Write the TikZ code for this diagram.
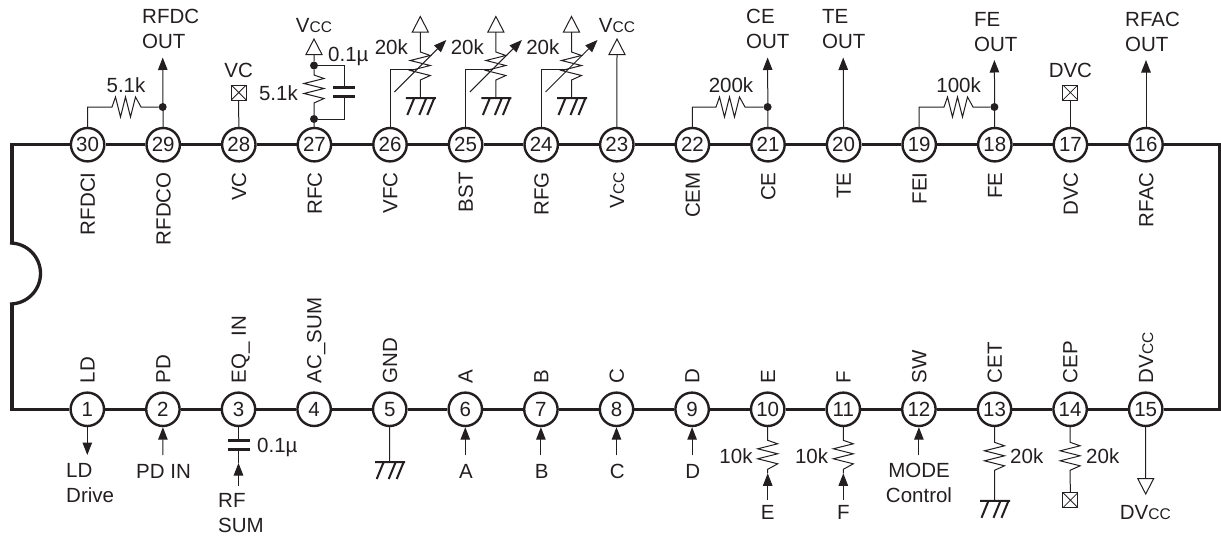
\documentclass[tikz,border=0pt]{standalone}
\usepackage{fontspec}
\setmainfont{Liberation Sans}
\usetikzlibrary{arrows.meta,calc}
\definecolor{ink}{HTML}{231F20}
\newcommand{\smc}[1]{{\fontsize{15.5}{15.5}\selectfont #1}}
\tikzset{
  pin/.style={circle,draw=ink,line width=2.4pt,fill=white,minimum size=33.4pt,inner sep=0pt,text=ink,font=\fontsize{20.5}{24}\selectfont},
  body/.style={draw=ink,line width=3.3pt,line cap=butt,line join=miter},
  wire/.style={draw=ink,line width=1pt},
  arr/.style={wire,-{Triangle[width=9.5pt,length=12.5pt]}},
  lbl/.style={inner sep=0pt,text=ink,font=\fontsize{20.5}{25}\selectfont},
  vlbl/.style={lbl,rotate=90,text height=14.7pt,text depth=0pt},
  dotn/.style={circle,fill=ink,minimum size=8pt,inner sep=0pt},
  nc/.style={rectangle,draw=ink,line width=1pt,minimum size=15pt,inner sep=0pt,
    path picture={\draw[ink,line width=.8pt] (path picture bounding box.north west)--(path picture bounding box.south east)
      (path picture bounding box.north east)--(path picture bounding box.south west);}},
  zigv/.style={to path={-- ++(10,3.5) -- ++(-20,5) -- ++(20,5) -- ++(-20,5) -- ++(20,5) -- (\tikztotarget)}},
  zigh/.style={to path={-- ++(3.5,-10) -- ++(5,20) -- ++(5,-20) -- ++(5,20) -- ++(5,-20) -- (\tikztotarget)}},
  vccup/.pic={\draw[wire,line join=miter] (0,-15.5)--(-8,0)--(8,0)--cycle;},
  vccdown/.pic={\draw[wire,line join=miter] (0,15.5)--(-8,0)--(8,0)--cycle;},
  gnd/.pic={\draw[ink,line width=2pt] (-14.5,0)--(15.5,0) (-6,0)--(-13,17) (6,0)--(-1,17) (14,0)--(7,17);},
  plate/.pic={\draw[ink,line width=3pt] (-11,0)--(11,0);}
}
\begin{document}
\begin{tikzpicture}[x=1pt,y=-1pt]
\useasboundingbox (0,0) rectangle (1221,541);
% outline corners
\coordinate (cTL) at (12,144.7);
\coordinate (cBL) at (12,409.3);
\coordinate (cTR) at (1220,144.7);
\coordinate (cBR) at (1220,409.3);
\coordinate (nA) at (12,243);
\coordinate (nB) at (12,304);
\coordinate (nC) at (10,243);
% pins
\foreach \n in {1,...,15} \node[pin] (p\n) at ({87.3+(\n-1)*75.6},409.3) {\n};
\foreach \n in {16,...,30} \node[pin] (p\n) at ({1146-(\n-16)*75.6},144.7) {\n};
% outline
\foreach \a/\b in {1/2,2/3,3/4,4/5,5/6,6/7,7/8,8/9,9/10,10/11,11/12,12/13,13/14,14/15,16/17,17/18,18/19,19/20,20/21,21/22,22/23,23/24,24/25,25/26,26/27,27/28,28/29,29/30}
  \draw[body] (p\a) -- (p\b);
\draw[body] (p30) -- (cTL) -- (nA);
\draw[body] (nB) -- (cBL) -- (p1);
\draw[body] (p15) -- (cBR) -- (cTR) -- (p16);
\draw[body] (nC) arc[start angle=-90,end angle=90,radius=30.5];
% top side labels
\foreach \n/\t in {30/RFDCI,29/RFDCO,28/VC,27/RFC,26/VFC,25/BST,24/RFG,23/V\smc{CC},22/CEM,21/CE,20/TE,19/FEI,18/FE,17/DVC,16/RFAC}
  \node[vlbl,anchor=east] (lt\n) at ($(p\n)+(0,27.5)$) {\t};
% bottom side labels
\foreach \n/\t in {1/LD,2/PD,3/EQ\_ IN,4/AC\_SUM,5/GND,6/A,7/B,8/C,9/D,10/E,11/F,12/SW,13/CET,14/CEP,15/DV\smc{CC}}
  \node[vlbl,anchor=west] (lb\n) at ($(p\n)+(0,-26)$) {\t};

% pin 30 / 29
\node[dotn] (d29) at (162.7,107) {};
\coordinate (r30a) at (112,107); \coordinate (r30b) at (141,107);
\coordinate (t29) at (162.7,57.5);
\draw[arr] (p29) -- (t29);
\draw[wire] (p30) |- (r30a) to[zigh] (r30b) -- (d29);
\node[lbl,anchor=base] (l51a) at (126,92) {5.1k};
\node[lbl,anchor=south west,align=left] (o29) at (142,49) {RFDC\\OUT};
% pin 28
\node[nc] (b28) at (238.7,92.5) {};
\draw[wire] (p28) -- (b28);
\node[lbl,anchor=base] (l28) at (238.7,77) {VC};
% pin 27
\node[dotn] (d27a) at (314,65.5) {};
\node[dotn] (d27b) at (314,119) {};
\coordinate (v27) at (314,54.5);
\coordinate (r27a) at (314,75); \coordinate (r27b) at (314,103);
\coordinate (c27a) at (344.3,87); \coordinate (c27b) at (344.3,96);
\pic at (v27) {vccup};
\draw[wire] (v27) -- (d27a) -- (r27a) to[zigv] (r27b) -- (d27b) -- (p27);
\draw[wire] (d27a) -| (c27a);
\draw[wire] (c27b) |- (d27b);
\pic at (c27a) {plate}; \pic at (c27b) {plate};
\node[lbl,anchor=base] (l27v) at (314,32) {V\smc{CC}};
\node[lbl,anchor=base west] (l27c) at (328,61) {0.1µ};
\node[lbl,anchor=base east] (l27r) at (298,100) {5.1k};
% pots 26 25 24
\foreach \n/\lx in {26/408,25/484,24/559.5}{
  \path (p\n) ++(30.3,0) coordinate (px);
  \coordinate (v\n) at (px |- 0,32);
  \coordinate (ra\n) at (px |- 0,52);
  \coordinate (rb\n) at (px |- 0,80);
  \coordinate (g\n) at (px |- 0,98);
  \coordinate (w\n) at ($(px |- 0,69)+(-4,0)$);
  \coordinate (as\n) at ($(px |- 0,92)+(-26,0)$);
  \coordinate (at\n) at ($(px |- 0,40)+(26,0)$);
  \pic at (v\n) {vccup};
  \pic at (g\n) {gnd};
  \draw[wire] (v\n) -- (ra\n) to[zigv] (rb\n) -- (g\n);
  \draw[wire] (p\n) |- (w\n);
  \draw[arr] (as\n) -- (at\n);
  \node[lbl,anchor=base east] (lp\n) at (\lx,54) {20k};
}
% pin 23
\coordinate (v23) at (617,54.5);
\pic at (v23) {vccup};
\draw[wire] (p23) -- (v23);
\node[lbl,anchor=base] (l23) at (617,32) {V\smc{CC}};
% pin 22 / 21
\node[dotn] (d21) at (767.6,107) {};
\coordinate (r22a) at (716,107); \coordinate (r22b) at (745,107);
\coordinate (t21) at (767.6,57.5);
\draw[arr] (p21) -- (t21);
\draw[wire] (p22) |- (r22a) to[zigh] (r22b) -- (d21);
\node[lbl,anchor=base] (l22) at (731,92) {200k};
\node[lbl,anchor=south west,align=left] (o21) at (746,49) {CE\\OUT};
% pin 20
\coordinate (t20) at (843.2,57.5);
\draw[arr] (p20) -- (t20);
\node[lbl,anchor=south west,align=left] (o20) at (822,49) {TE\\OUT};
% pin 19 / 18
\node[dotn] (d18) at (994.4,107) {};
\coordinate (r19a) at (944,107); \coordinate (r19b) at (973,107);
\coordinate (t18) at (994.4,60);
\draw[arr] (p18) -- (t18);
\draw[wire] (p19) |- (r19a) to[zigh] (r19b) -- (d18);
\node[lbl,anchor=base] (l19) at (958.6,92) {100k};
\node[lbl,anchor=south west,align=left] (o18) at (974,51.7) {FE\\OUT};
% pin 17
\node[nc] (b17) at (1070.4,92.5) {};
\draw[wire] (p17) -- (b17);
\node[lbl,anchor=base] (l17) at (1070.4,77) {DVC};
% pin 16
\coordinate (t16) at (1146,60);
\draw[arr] (p16) -- (t16);
\node[lbl,anchor=south west,align=left] (o16) at (1125,51.7) {RFAC\\OUT};

% bottom: pin 1
\coordinate (t1) at (87.3,455);
\draw[arr] (p1) -- (t1);
\node[lbl,anchor=south west,align=left] (o1) at (66,503) {LD\\Drive};
% pin 2
\coordinate (s2) at (162.9,455);
\draw[arr] (s2) -- (p2);
\node[lbl,anchor=base] (l2) at (163.5,478) {PD IN};
% pin 3
\coordinate (c3a) at (238.5,440.7); \coordinate (c3b) at (238.5,449.3);
\coordinate (s3) at (238.5,486); \coordinate (t3) at (238.5,463);
\draw[wire] (p3) -- (c3a);
\draw[wire] (c3b) -- (t3);
\draw[arr] (s3) -- (t3);
\pic at (c3a) {plate}; \pic at (c3b) {plate};
\node[lbl,anchor=base west] (l3) at (257,452) {0.1µ};
\node[lbl,anchor=south west,align=left] (o3) at (218,533) {RF\\SUM};
% pin 5
\coordinate (g5) at (389.7,462);
\draw[wire] (p5) -- (g5);
\pic at (g5) {gnd};
% pins 6-9
\foreach \n/\t in {6/A,7/B,8/C,9/D}{
  \coordinate (s\n) at ($(p\n)+(0,46)$);
  \draw[arr] (s\n) -- (p\n);
  \node[lbl,anchor=base] (l\n) at ($(p\n)+(0.7,68.7)$) {\t};
}
% pins 10, 11
\foreach \n/\t in {10/E,11/F}{
  \coordinate (ra\n) at ($(p\n)+(0,31)$);
  \coordinate (rb\n) at ($(p\n)+(0,60)$);
  \coordinate (s\n) at ($(p\n)+(0,91)$);
  \coordinate (ta\n) at ($(p\n)+(0,64)$);
  \draw[wire] (p\n) -- (ra\n) to[zigv] (rb\n) -- (ta\n);
  \draw[arr] (s\n) -- (ta\n);
  \node[lbl,anchor=base] (l\n) at ($(p\n)+(0,109.7)$) {\t};
  \node[lbl,anchor=base east] (k\n) at ($(p\n)+(-15,53.7)$) {10k};
}
% pin 12
\coordinate (s12) at ($(p12)+(0,46)$);
\draw[arr] (s12) -- (p12);
\node[lbl,anchor=south,align=center] (o12) at (919,503) {MODE\\Control};
% pin 13
\coordinate (r13a) at ($(p13)+(0,33)$); \coordinate (r13b) at ($(p13)+(0,61)$);
\coordinate (g13) at ($(p13)+(0,91.5)$);
\draw[wire] (p13) -- (r13a) to[zigv] (r13b) -- (g13);
\pic at (g13) {gnd};
\node[lbl,anchor=base west] (l13) at (1010,463) {20k};
% pin 14
\coordinate (r14a) at ($(p14)+(0,33)$); \coordinate (r14b) at ($(p14)+(0,61)$);
\node[nc] (b14) at (1070.4,500.2) {};
\draw[wire] (p14) -- (r14a) to[zigv] (r14b) -- (b14);
\node[lbl,anchor=base west] (l14) at (1086,463) {20k};
% pin 15
\coordinate (v15) at (1145.7,478.5);
\pic at (v15) {vccdown};
\draw[wire] (p15) -- (v15);
\node[lbl,anchor=base] (l15) at (1145.3,519) {DV\smc{CC}};
\end{tikzpicture}
\end{document}
